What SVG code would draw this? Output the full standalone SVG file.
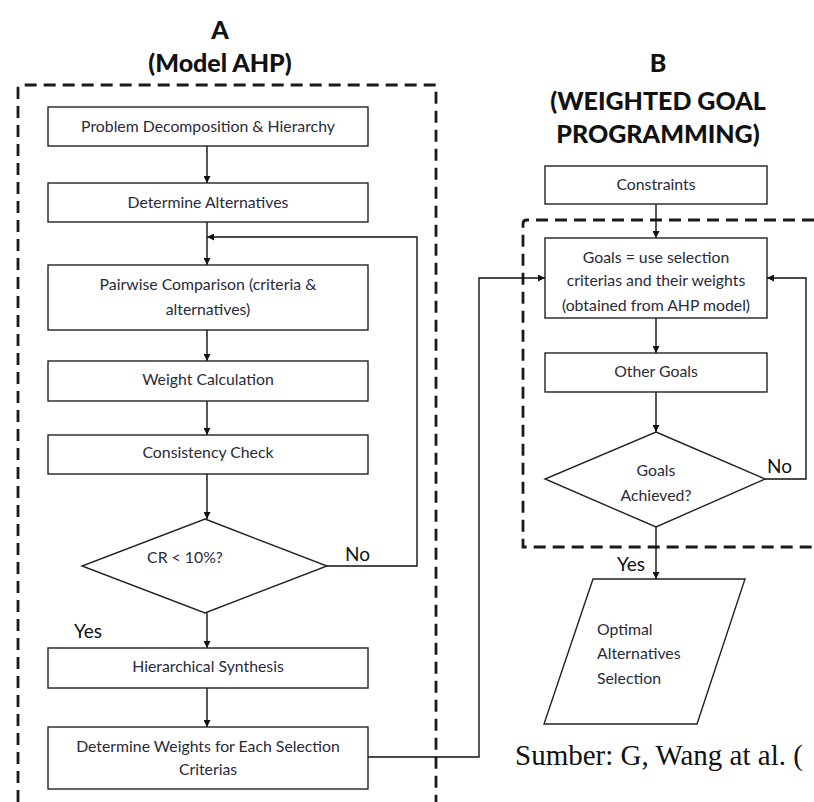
<svg xmlns="http://www.w3.org/2000/svg" width="814" height="802" viewBox="0 0 814 802">
  <defs>
    <marker id="arrow" viewBox="0 0 10 10" refX="10" refY="5" markerWidth="7" markerHeight="7" markerUnits="userSpaceOnUse" orient="auto">
      <path d="M0,0 L10,5 L0,10 z" fill="#111"/>
    </marker>
    <style>
      .box { fill: #fff; stroke: #222; stroke-width: 1.4; }
      .frame { fill: none; stroke: #1a1a1a; stroke-width: 2.8; stroke-dasharray: 12 7; }
      .link { fill: none; stroke: #111; stroke-width: 1.4; }
      .link-arrow { fill: none; stroke: #111; stroke-width: 1.4; marker-end: url(#arrow); }
      .t { font-family: Lato, "Open Sans", "Liberation Sans", sans-serif; font-size: 15.8px; fill: #2a2a3a; text-anchor: middle; dominant-baseline: central; }
      .tl { text-anchor: start; }
      .lbl { font-family: Lato, "Open Sans", "Liberation Sans", sans-serif; font-size: 19px; fill: #111; dominant-baseline: central; }
      .title { font-family: Lato, "Open Sans", "Liberation Sans", sans-serif; font-weight: 900; font-size: 25px; fill: #111; text-anchor: middle; dominant-baseline: central; }
      .src { font-family: "Liberation Serif", serif; font-size: 29px; fill: #111; }
    </style>
  </defs>
  <rect width="814" height="802" fill="#fff"/>

  <!-- titles -->
  <text class="title" x="220" y="29">A</text>
  <text class="title" x="220" y="62">(Model AHP)</text>
  <text class="title" x="658" y="62">B</text>
  <text class="title" x="658" y="100">(WEIGHTED GOAL</text>
  <text class="title" x="658" y="133">PROGRAMMING)</text>

  <!-- dashed frames -->
  <path class="frame" d="M18,802 L18,89 Q18,85 22,85 L436,85 L436,802"/>
  <path class="frame" d="M814,220 L527,220 Q523,220 523,224 L523,547 L814,547"/>

  <!-- connectors -->
  <g id="connectors">
    <line class="link-arrow" x1="207" y1="146" x2="207" y2="183"/>
    <line class="link-arrow" x1="207" y1="222" x2="207" y2="265"/>
    <line class="link-arrow" x1="207" y1="330" x2="207" y2="361"/>
    <line class="link-arrow" x1="207" y1="401" x2="207" y2="435"/>
    <line class="link-arrow" x1="207" y1="474" x2="207" y2="519"/>
    <line class="link-arrow" x1="207" y1="613" x2="207" y2="648"/>
    <line class="link-arrow" x1="207" y1="688" x2="207" y2="727"/>
    <polyline class="link-arrow" points="327,566 417,566 417,237 207,237"/>
    <polyline class="link-arrow" points="368,757 479,757 479,278 545,278"/>
    <line class="link-arrow" x1="656" y1="204" x2="656" y2="238"/>
    <line class="link-arrow" x1="656" y1="318" x2="656" y2="353"/>
    <line class="link-arrow" x1="656" y1="392" x2="656" y2="432"/>
    <polyline class="link-arrow" points="765,479 806,479 806,278 767,278"/>
    <line class="link-arrow" x1="656" y1="527" x2="656" y2="579"/>
    <text class="lbl" x="345" y="553">No</text>
    <text class="lbl" x="74" y="630">Yes</text>
    <text class="lbl" x="767" y="465">No</text>
    <text class="lbl" x="617" y="563">Yes</text>
  </g>

  <!-- model A -->
  <g id="decomposition">
    <rect class="box" x="48" y="107" width="320" height="39"/>
    <text class="t" x="208" y="125">Problem Decomposition &amp; Hierarchy</text>
  </g>
  <g id="alternatives">
    <rect class="box" x="48" y="183" width="320" height="39"/>
    <text class="t" x="208" y="201">Determine Alternatives</text>
  </g>
  <g id="pairwise">
    <rect class="box" x="48" y="265" width="320" height="65"/>
    <text class="t" x="208" y="283">Pairwise Comparison (criteria &amp;</text>
    <text class="t" x="208" y="308">alternatives)</text>
  </g>
  <g id="weight-calc">
    <rect class="box" x="48" y="361" width="320" height="40"/>
    <text class="t" x="208" y="378">Weight Calculation</text>
  </g>
  <g id="consistency">
    <rect class="box" x="48" y="435" width="320" height="39"/>
    <text class="t" x="208" y="451">Consistency Check</text>
  </g>
  <g id="cr-check">
    <polygon class="box" points="205,519 327,566 205,613 82,566"/>
    <text class="t" x="185" y="556">CR &lt; 10%?</text>
  </g>
  <g id="synthesis">
    <rect class="box" x="48" y="648" width="320" height="40"/>
    <text class="t" x="208" y="665">Hierarchical Synthesis</text>
  </g>
  <g id="criteria-weights">
    <rect class="box" x="48" y="727" width="320" height="62"/>
    <text class="t" x="208" y="745">Determine Weights for Each Selection</text>
    <text class="t" x="208" y="768">Criterias</text>
  </g>

  <!-- model B -->
  <g id="constraints">
    <rect class="box" x="545" y="166" width="222" height="38"/>
    <text class="t" x="656" y="183">Constraints</text>
  </g>
  <g id="goals">
    <rect class="box" x="545" y="238" width="222" height="80"/>
    <text class="t" x="656" y="256">Goals = use selection</text>
    <text class="t" x="656" y="279">criterias and their weights</text>
    <text class="t" x="656" y="304">(obtained from AHP model)</text>
  </g>
  <g id="other-goals">
    <rect class="box" x="545" y="353" width="222" height="39"/>
    <text class="t" x="656" y="370">Other Goals</text>
  </g>
  <g id="goals-achieved">
    <polygon class="box" points="656,432 765,479 656,527 545,479"/>
    <text class="t" x="656" y="469">Goals</text>
    <text class="t" x="656" y="494">Achieved?</text>
  </g>
  <g id="optimal-selection">
    <polygon class="box" points="593,579 745,579 697,724 544,724"/>
    <text class="t tl" x="597" y="628">Optimal</text>
    <text class="t tl" x="597" y="652">Alternatives</text>
    <text class="t tl" x="597" y="677">Selection</text>
  </g>

  <text class="src" x="515" y="765">Sumber: G, Wang at al. (</text>
</svg>
